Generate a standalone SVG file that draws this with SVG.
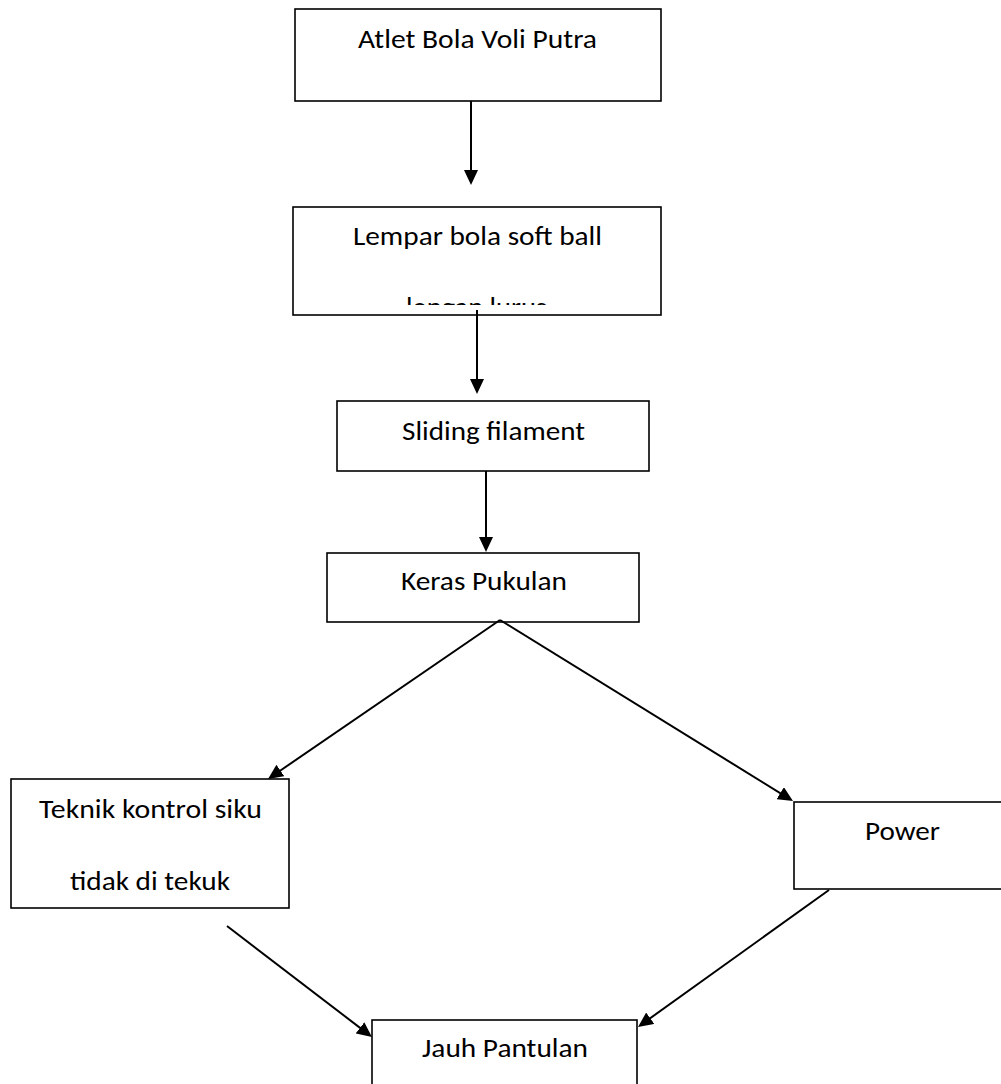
<svg xmlns="http://www.w3.org/2000/svg" width="1001" height="1084" viewBox="0 0 1001 1084">
<style>
  .box { fill: #ffffff; stroke: #000000; stroke-width: 1.6; }
  .lbl { font-family: Carlito, Lato, "Open Sans", sans-serif; font-size: 26px; fill: #000000; text-anchor: middle; }
  .conn { stroke: #000000; stroke-width: 2; fill: none; marker-end: url(#arrow); }
</style>
<defs>
  <marker id="arrow" markerUnits="userSpaceOnUse" markerWidth="15" markerHeight="14" refX="7" refY="7" orient="auto">
    <path d="M0,0 L15,7 L0,14 z" fill="#000000"/>
  </marker>
  <clipPath id="clip2">
    <rect x="293" y="207" width="368" height="98"/>
  </clipPath>
</defs>
<rect x="0" y="0" width="1001" height="1084" fill="#ffffff"/>

<g id="node-atlet">
  <rect class="box" x="295" y="9" width="366" height="92"/>
  <text class="lbl" x="477.5" y="48" textLength="239" lengthAdjust="spacingAndGlyphs">Atlet Bola Voli Putra</text>
</g>
<g id="node-lempar">
  <rect class="box" x="293" y="207" width="368" height="108"/>
  <text class="lbl" x="477.5" y="245" textLength="249" lengthAdjust="spacingAndGlyphs">Lempar bola soft ball</text>
  <text class="lbl" x="476.5" y="316" textLength="141" lengthAdjust="spacingAndGlyphs" clip-path="url(#clip2)">lengan lurus</text>
</g>
<g id="node-sliding">
  <rect class="box" x="337" y="401" width="312" height="70"/>
  <text class="lbl" x="493.5" y="440" textLength="183" lengthAdjust="spacingAndGlyphs">Sliding filament</text>
</g>
<g id="node-keras">
  <rect class="box" x="327" y="553" width="312" height="69"/>
  <text class="lbl" x="484" y="590" textLength="166" lengthAdjust="spacingAndGlyphs">Keras Pukulan</text>
</g>
<g id="node-teknik">
  <rect class="box" x="11" y="779" width="278" height="129"/>
  <text class="lbl" x="150.5" y="818" textLength="223" lengthAdjust="spacingAndGlyphs">Teknik kontrol siku</text>
  <text class="lbl" x="150" y="890" textLength="160" lengthAdjust="spacingAndGlyphs">tidak di tekuk</text>
</g>
<g id="node-power">
  <rect class="box" x="794" y="802" width="216" height="87"/>
  <text class="lbl" x="902.5" y="840" textLength="75" lengthAdjust="spacingAndGlyphs">Power</text>
</g>
<g id="node-jauh">
  <rect class="box" x="372" y="1020" width="265" height="80"/>
  <text class="lbl" x="505" y="1057" textLength="166" lengthAdjust="spacingAndGlyphs">Jauh Pantulan</text>
</g>

<g id="connectors">
  <line class="conn" x1="471" y1="101" x2="471" y2="177"/>
  <line class="conn" x1="477" y1="310" x2="477" y2="386"/>
  <line class="conn" x1="486" y1="471" x2="486" y2="544"/>
  <line class="conn" x1="500" y1="620" x2="274.6" y2="774.5"/>
  <line class="conn" x1="500" y1="620" x2="786.2" y2="796.8"/>
  <line class="conn" x1="227" y1="926" x2="365.6" y2="1032.1"/>
  <line class="conn" x1="829" y1="890" x2="644.5" y2="1022.3"/>
</g>
</svg>
